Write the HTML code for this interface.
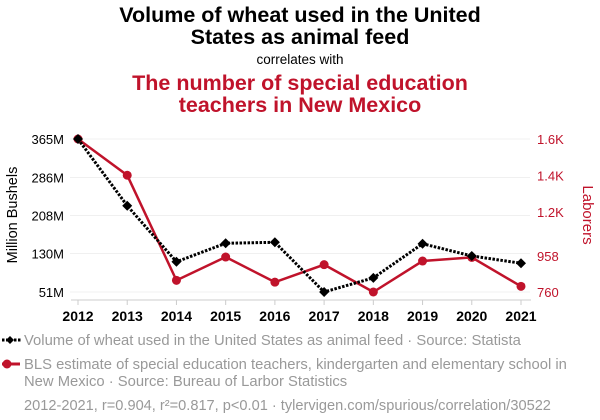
<!DOCTYPE html>
<html><head><meta charset="utf-8"><style>
body{margin:0;background:#fff;}
svg{display:block;font-family:"Liberation Sans",Arial,sans-serif;}
</style></head><body>
<svg width="600" height="420" viewBox="0 0 600 420">
<g text-anchor="middle" font-weight="bold" font-size="21.5">
<text x="300" y="22" fill="#000">Volume of wheat used in the United</text>
<text x="300" y="44" fill="#000">States as animal feed</text>
<text x="300" y="64" font-size="13.5" font-weight="normal" fill="#000">correlates with</text>
<text x="300" y="90" fill="#c0132b">The number of special education</text>
<text x="300" y="112" fill="#c0132b">teachers in New Mexico</text>
</g>
<g id="grid"></g>
<g id="axes"></g>
<g id="series"></g>
<text transform="translate(17,215) rotate(-90)" text-anchor="middle" font-size="14.5" fill="#000">Million Bushels</text>
<text transform="translate(583,215) rotate(90)" text-anchor="middle" font-size="15" fill="#c0132b">Laborers</text>
<g font-size="14.8" fill="#999">
<g>
<line x1="2" y1="340" x2="22" y2="340" stroke="#000" stroke-width="3" stroke-dasharray="2.5,1.5"/>
<path d="M6,340 L10,336 L14,340 L10,344 Z" fill="#000"/>
<text x="24" y="345">Volume of wheat used in the United States as animal feed · Source: Statista</text>
</g>
<g>
<line x1="2" y1="364" x2="20" y2="364" stroke="#c0132b" stroke-width="3"/>
<circle cx="7" cy="364" r="4.5" fill="#c0132b"/>
<text x="24" y="369">BLS estimate of special education teachers, kindergarten and elementary school in</text>
<text x="24" y="386">New Mexico · Source: Bureau of Larbor Statistics</text>
</g>
<text x="24" y="410" font-size="14.6">2012-2021, r=0.904, r²=0.817, p&lt;0.01 · tylervigen.com/spurious/correlation/30522</text>
</g>
</svg>
<script>
const years=[2012,2013,2014,2015,2016,2017,2018,2019,2020,2021];
const wheat=[365,228,113,151,153,51,80,150,125,110];
const teachers=[1600,1401,824,952,814,910,760,930,950,791];
const leftTicks=[51,130,208,286,365];
const leftLabels=["51M","130M","208M","286M","365M"];
const rightTicks=[760,958,1200,1400,1600];
const rightLabels=["760","958","1.2K","1.4K","1.6K"];
const NS="http://www.w3.org/2000/svg";
const xS=i=>78+i*(521-78)/9;
const yL=v=>292-(v-51)*(292-139)/(365-51);
const yR=v=>292-(v-760)*(292-139)/(1600-760);
function mk(tag,attrs,parent,txt){const e=document.createElementNS(NS,tag);for(const k in attrs)e.setAttribute(k,attrs[k]);if(txt!==undefined)e.textContent=txt;parent.appendChild(e);return e;}
const grid=document.getElementById('grid'),axes=document.getElementById('axes'),ser=document.getElementById('series');
leftTicks.forEach((t,i)=>{
 const g=mk('line',{x1:70,x2:530,y1:yL(t),y2:yL(t),stroke:'#f0f0f0','stroke-width':1},grid);
 
 
 const l=mk('text',{x:64,y:yL(t)+5,'text-anchor':'end','font-size':13,fill:'#000'},axes,leftLabels[i]);
 
 
});
rightTicks.forEach((t,i)=>{
 const l=mk('text',{x:537,y:yR(t)+5,'text-anchor':'start','font-size':13,fill:'#c0132b'},axes,rightLabels[i]);
 
 
});
const base=mk('line',{x1:71,x2:531,y1:300,y2:300,stroke:'#ccc','stroke-width':1},axes);


years.forEach((y,i)=>{
 mk('line',{x1:xS(i),x2:xS(i),y1:300,y2:305,stroke:'#ccc'},axes);
 const t=mk('text',{x:xS(i),y:321,'text-anchor':'middle','font-size':14,'font-weight':'bold',fill:'#000'},axes,y);
 
 
});
const rp=mk('polyline',{points:teachers.map((v,i)=>xS(i)+','+yR(v)).join(' '),fill:'none',stroke:'#c0132b','stroke-width':2.5},ser);


teachers.forEach((v,i)=>{
 const c=mk('circle',{cx:xS(i),cy:yR(v),r:4.5,fill:'#c0132b'},ser);
 
 
});
const bp=mk('polyline',{points:wheat.map((v,i)=>xS(i)+','+yL(v)).join(' '),fill:'none',stroke:'#000','stroke-width':3,'stroke-dasharray':'2.5,1.5'},ser);


wheat.forEach((v,i)=>{
 const x=xS(i),y=yL(v);
 const d=mk('path',{d:`M${x-5},${y} L${x},${y-5} L${x+5},${y} L${x},${y+5} Z`,fill:'#000'},ser);
 
 
});
</script>
</body></html>
